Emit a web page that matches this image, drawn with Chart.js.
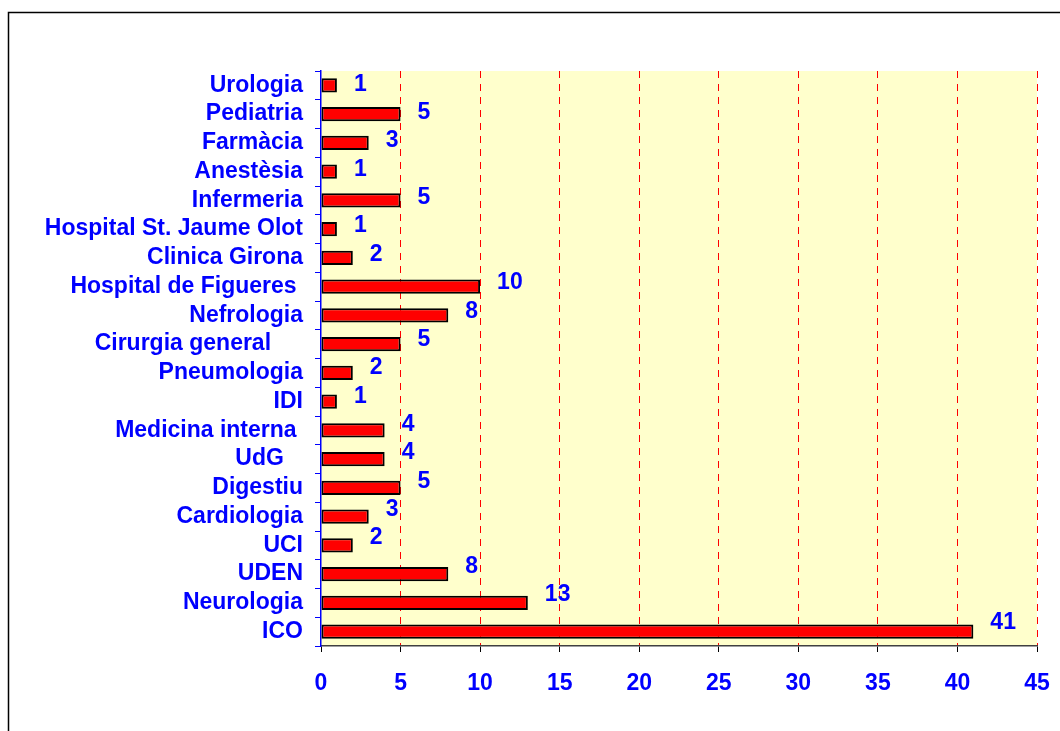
<!DOCTYPE html>
<html>
<head>
<meta charset="utf-8">
<script src="https://cdn.jsdelivr.net/npm/chart.js@4/dist/chart.umd.min.js"></script>
<style>
  html, body { margin: 0; padding: 0; background: #fff; }
  #wrap { width: 1060px; height: 731px; }
</style>
</head>
<body>
<div id="wrap"><canvas id="barChart"></canvas></div>
<script>
// categories top to bottom, as in the picture
const categories = [
    'Urologia', 'Pediatria', 'Farmàcia', 'Anestèsia', 'Infermeria',
    'Hospital St. Jaume Olot', 'Clinica Girona', 'Hospital de Figueres ',
    'Nefrologia', 'Cirurgia general     ', 'Pneumologia', 'IDI',
    'Medicina interna ', 'UdG   ', 'Digestiu', 'Cardiologia', 'UCI',
    'UDEN', 'Neurologia', 'ICO'
];
const counts = [1, 5, 3, 1, 5, 1, 2, 10, 8, 5, 2, 1, 4, 4, 5, 3, 2, 8, 13, 41];
const xTicks = [0, 5, 10, 15, 20, 25, 30, 35, 40, 45];

const FONT = "'Liberation Sans', Arial, sans-serif";
const BLUE = '#0000ff';

// yellow plot area + outer frame
const backgroundPlugin = {
    id: 'plotBackground',
    beforeDraw(chart) {
        const ctx = chart.ctx;
        const a = chart.chartArea;
        ctx.save();
        ctx.fillStyle = '#ffffcc';
        ctx.fillRect(a.left, a.top, a.right - a.left, a.bottom - a.top);
        ctx.strokeStyle = '#000';
        ctx.lineWidth = 1.5;
        ctx.strokeRect(8.5, 12.5, 2000, 2000);
        ctx.restore();
    }
};

// value labels next to each bar (they drift up a little towards the bottom, like the original)
const valueLabels = {
    id: 'valueLabels',
    afterDatasetsDraw(chart) {
        const ctx = chart.ctx;
        const meta = chart.getDatasetMeta(0);
        const n = meta.data.length - 1;
        ctx.save();
        ctx.fillStyle = BLUE;
        ctx.font = 'bold 23px ' + FONT;
        ctx.textAlign = 'left';
        ctx.textBaseline = 'middle';
        meta.data.forEach((bar, i) => {
            ctx.fillText(String(counts[i]), bar.x + 17, bar.y - 1 - 7.5 * i / n);
        });
        ctx.restore();
    }
};

const ctx = document.getElementById('barChart').getContext('2d');
new Chart(ctx, {
    type: 'bar',
    data: {
        labels: categories,
        datasets: [{
            data: counts,
            backgroundColor: '#ff0000',
            borderColor: '#000000',
            borderWidth: 2,
            borderSkipped: false,
            barPercentage: 0.5,
            categoryPercentage: 1.0
        }]
    },
    options: {
        indexAxis: 'y',
        responsive: true,
        maintainAspectRatio: false,
        animation: false,
        layout: { padding: { top: 71, right: 23, left: 0, bottom: 0 } },
        plugins: {
            legend: { display: false },
            tooltip: { enabled: false }
        },
        scales: {
            x: {
                min: 0,
                max: 45,
                afterBuildTicks: scale => { scale.ticks = xTicks.map(v => ({ value: v })); },
                afterFit: scale => {
                    scale.height = 85;
                    scale.paddingLeft = 0;
                    scale.paddingRight = 0;
                },
                grid: {
                    color: c => (c.tick && c.tick.value === 0) ? 'rgba(0,0,0,0)' : '#ff0000',
                    lineWidth: 1,
                    tickLength: 6,
                    tickColor: '#000000',
                    tickBorderDash: []
                },
                border: { color: '#404040', width: 1.5, dash: [7, 6] },
                ticks: {
                    color: BLUE,
                    padding: 18,
                    maxRotation: 0,
                    font: { family: FONT, size: 23, weight: 'bold' }
                }
            },
            y: {
                afterFit: scale => { scale.width = 321; },
                grid: {
                    offset: true,
                    drawOnChartArea: false,
                    tickLength: 6,
                    color: BLUE
                },
                border: { color: BLUE, width: 1.5 },
                ticks: {
                    color: BLUE,
                    padding: 12,
                    autoSkip: false,
                    font: { family: FONT, size: 23, weight: 'bold' }
                }
            }
        }
    },
    plugins: [backgroundPlugin, valueLabels]
});
</script>
</body>
</html>
